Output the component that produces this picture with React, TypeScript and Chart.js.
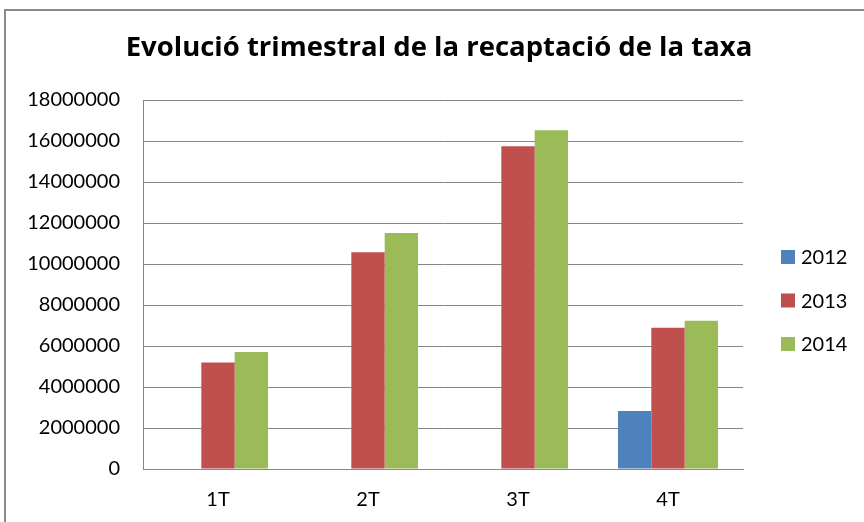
import React, { useEffect, useRef } from "react";
import { Chart, registerables } from "chart.js";

Chart.register(...registerables);

const TITLE = "Evolució trimestral de la recaptació de la taxa";
const categories = ["1T", "2T", "3T", "4T"];
const seriesLabels = ["2012", "2013", "2014"];
const values2012: (number | null)[] = [null, null, null, 2830000];
const values2013 = [5200000, 10570000, 15740000, 6890000];
const values2014 = [5710000, 11510000, 16520000, 7230000];
const seriesColors = ["#4F81BD", "#C0504D", "#9BBB59"];
const yMin = 0;
const yMax = 18000000;
const yStep = 2000000;

const FONT = "Lato, 'Open Sans', sans-serif";
const TITLE_FONT = "'Open Sans', Lato, sans-serif";

const sideLegend = {
  id: "sideLegend",
  afterDraw(chart: any) {
    const { ctx, chartArea } = chart;
    const x = chartArea.right + 38;
    const mid = (chartArea.top + chartArea.bottom) / 2 + 16;
    const gap = 43.5;
    const ds = chart.data.datasets;
    const n = ds.length;
    ctx.save();
    ctx.font = `20px ${FONT}`;
    ctx.textBaseline = "middle";
    ctx.textAlign = "left";
    ds.forEach((d: any, i: number) => {
      const y = mid + (i - (n - 1) / 2) * gap;
      ctx.fillStyle = d.backgroundColor;
      ctx.fillRect(x, y - 7, 14, 14);
      ctx.fillStyle = "#000";
      ctx.fillText(d.label, x + 20, y + 1);
    });
    ctx.restore();
  },
};

export default function App() {
  const ref = useRef<HTMLCanvasElement | null>(null);
  useEffect(() => {
    if (!ref.current) return;
    const seriesValues = [values2012, values2013, values2014];
    const chart = new Chart(ref.current, {
      type: "bar",
      data: {
        labels: categories,
        datasets: seriesLabels.map((label, i) => ({
          label,
          data: seriesValues[i] as any,
          backgroundColor: seriesColors[i],
          borderWidth: 0,
          categoryPercentage: 0.667,
          barPercentage: 1,
          yAxisID: "y",
        })),
      },
      options: {
        responsive: false,
        animation: false,
        layout: { padding: { left: 14, right: 0, top: 0, bottom: 10 } },
        plugins: {
          legend: { display: false },
          tooltip: { enabled: false },
          title: {
            display: true,
            text: TITLE,
            color: "#000",
            font: { family: TITLE_FONT, size: 27.5, weight: "bold" },
            padding: { top: 32, bottom: 35 },
          },
        },
        scales: {
          x: {
            grid: { display: false, drawTicks: false },
            border: { display: true, color: "#868686", width: 1 },
            ticks: { color: "#000", font: { family: FONT, size: 20 }, padding: 19 },
            afterFit: (scale: any) => {
              scale.height = 43;
            },
          },
          y: {
            min: yMin,
            max: yMax,
            grid: { color: "#868686", lineWidth: 1, drawTicks: false },
            border: { display: true, color: "#868686", width: 1 },
            ticks: {
              stepSize: yStep,
              color: "#000",
              font: { family: FONT, size: 20 },
              padding: 23,
              callback: (v: any) => String(v),
            },
            afterFit: (scale: any) => {
              scale.width = 129;
            },
          },
          legendSpace: {
            type: "linear",
            position: "right",
            display: true,
            grid: { display: false, drawTicks: false },
            border: { display: false },
            ticks: { display: false },
            afterFit: (scale: any) => {
              scale.width = 121;
            },
          },
        },
      },
      plugins: [sideLegend],
    });
    return () => chart.destroy();
  }, []);
  return (
    <div style={{ position: "absolute", left: 0, top: 0, width: 864, height: 522, overflow: "hidden", background: "#fff" }}>
      <div
        style={{
          position: "absolute",
          left: 4,
          top: 9,
          width: 900,
          height: 600,
          borderLeft: "2px solid #8a8a8a",
          borderTop: "2px solid #8a8a8a",
        }}
      />
      <canvas ref={ref} width={864} height={522} style={{ position: "absolute", left: 0, top: 0, display: "block" }} />
    </div>
  );
}
